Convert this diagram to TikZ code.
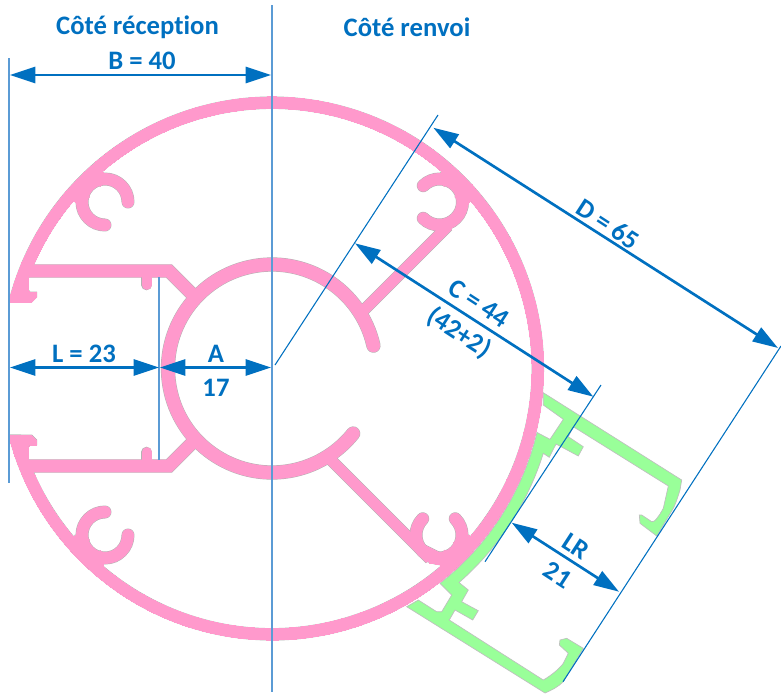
\documentclass[tikz,border=0pt]{standalone}
\usepackage{fontspec}
\setmainfont{Carlito}[Ligatures=NoCommon]
\usetikzlibrary{
  arrows.meta,
  calc,
}
\definecolor{mypink}{HTML}{FF99CC}
\definecolor{mygreen}{HTML}{99FF99}
\definecolor{myblue}{HTML}{0070C0}
\definecolor{myext}{HTML}{5B9BD5}
\def\myextra{0pt}
\tikzset{
  x=0.75pt,
  y=-0.75pt,
  >={Triangle[length=19pt,width=12pt]},
  my label/.style={
    font=\bfseries\fontsize{20}{20}\selectfont,
    text=myblue,
    inner sep=0pt
  },
  my dim/.style={
    <->,
    draw=myblue,
    line width=2pt
  },
  my ext/.style={
    draw=myext,
    line width=1.2pt
  },
  my thin/.style={
    draw=myblue,
    line width=0.8pt
  },
  hub wall/.style={
    line width=10pt+\myextra,
    line cap=round
  },
  clip wall/.style={
    line width=9pt+\myextra,
    line cap=round
  },
  rib wall/.style={
    line width=8.2pt+\myextra
  },
  bar wall/.style={
    line width=9.4pt+\myextra,
    miter limit=10
  },
  tab wall/.style={
    line width=7.2pt+\myextra,
    line cap=round
  }
}
% drawn twice: once wider in grey for the edge, once in pink
\newcommand{\pinkparts}[2]{
  \def\myextra{#2}
  \begin{scope}[color=#1,fill=#1,line width=#2]
    \filldraw ($(o)+(194.18:271.5)$) arc[start angle=194.18,end angle=525.82,radius=271.5]
      -- ($(o)+(525.18:260)$) arc[start angle=525.18,end angle=194.82,radius=260] -- cycle;
    \draw[hub wall] ($(o)+(-12.7:104)$) arc[start angle=-12.7,end angle=-321.3,radius=104];
    \foreach \cy/\sgn in {271/1,466/-1} {
      \draw[bar wall] (25,\cy) -- (169,\cy) -- (195,\cy+26*\sgn);
      \draw[tab wall] (146.7,\cy) -- (146.7,\cy+14*\sgn);
    }
    \filldraw (8.8,302) -- (31.7,302) -- (36.7,297) -- (36.7,292) -- (30,292) -- (28.3,290)
      -- (28.3,270) -- (22,270) -- cycle;
    \filldraw (8.8,435) -- (31.7,435) -- (36.7,440) -- (36.7,445) -- (30,445) -- (28.3,447)
      -- (28.3,467) -- (22,467) -- cycle;
    \draw[rib wall] (362,312) -- (448,226);
    \draw[rib wall] (331,460) -- (430,559);
    \foreach \cx/\cy/\sa/\ea/\na/\nb in {105/202/0/-270/-106/-163,105/535/-90/-360/106/163,439.5/202/-225/-495/-74/-17,439/535/-135/-405/70/27} {
      \draw[clip wall] ($(\cx,\cy)+(\sa:23)$) arc[start angle=\sa,end angle=\ea,radius=23];
      \fill ($(\cx,\cy)+(\na:17.5)$) circle[radius=1.7];
      \fill ($(\cx,\cy)+(\nb:17.5)$) circle[radius=1.7];
    }
    % feet of the four clips
    \filldraw (103,172) -- (105,179) -- (89,186) -- (82,202) -- (75,202) -- (74,192) -- (93,173) -- cycle;
    \filldraw (103,565) -- (105,558) -- (89,551) -- (82,535) -- (75,535) -- (74,545) -- (93,564) -- cycle;
    \filldraw (441,172) -- (439,179) -- (455,186) -- (462,202) -- (469,202) -- (470,192) -- (451,173) -- cycle;
    \filldraw (441,565) -- (439,558) -- (455,551) -- (462,535) -- (469,535) -- (470,545) -- (451,564) -- cycle;
    \filldraw (469,202) -- (461.7,218) -- (447,232) -- (435,231.7) -- (440,225) -- (455,218) -- (462,202) -- cycle;
    \filldraw (430,563) -- (441,565) -- (445,555) -- (415,540) -- cycle;
  \end{scope}
}

\begin{document}
\begin{tikzpicture}
\useasboundingbox (0,0) rectangle (781,693);
\coordinate (o) at (272,368.5);

% counter profile
\filldraw[draw=black!25,fill=mygreen,line width=0.5pt]
  (543.3,392.7) -- (681.7,480) -- (680,490) .. controls (677,500) and (675,505) .. (673.3,508.3)
  -- (656.7,536) -- (640,523.3) -- (639.3,515) -- (641.7,515) -- (651.7,521.7)
  .. controls (655,522) and (657,518) .. (660,514) -- (663.3,508.3) -- (668.3,486)
  -- (573.3,426.7) -- (568.3,436.7) -- (583.3,446.7) -- (578.3,456) -- (556,444)
  -- (549.3,457.3) -- (543.3,453.3)
  arc[start angle=17.4,end angle=48.8,radius=285]
  -- (468.3,590) -- (461.7,601.7) -- (478.3,610.7) -- (472.7,620) -- (455,610) -- (449.3,620)
  -- (543.3,680) .. controls (552,675) and (560,668) .. (563.3,663.3) -- (568.3,653.3)
  -- (559.3,645) -- (560,640) -- (566.7,638.3) -- (583.3,648.3) -- (563.3,681.7)
  .. controls (558,687) and (552,690) .. (545,693)
  -- (406.7,606.7) -- (418.3,600) -- (436.7,611.7) -- (441.7,611.7) -- (451.7,595) -- (440,583.3)
  arc[start angle=52,end angle=13.5,radius=272]
  -- (550,439.3) -- (563.3,419.3) -- (543.3,405) -- cycle;

\pinkparts{black!30}{0.7pt}
\pinkparts{mypink}{0pt}

% extension lines
\coordinate (bt) at (9,58);      \coordinate (bb) at (9,483);
\coordinate (mt) at (271.7,5);   \coordinate (mb) at (271.7,692);
\coordinate (lt) at (159,277);   \coordinate (lb) at (159,460);
\coordinate (ct) at (438,115);   \coordinate (cb) at (275,365);
\coordinate (rt) at (601,385);   \coordinate (rb) at (485,561.7);
\coordinate (dt) at (781,346);   \coordinate (db) at (563,681.7);
\draw[my ext] (bt) -- (bb);
\draw[my ext] (mt) -- (mb);
\draw[my ext] (lt) -- (lb);
\draw[my thin] (ct) -- (cb);
\draw[my thin] (rt) -- (rb);
\draw[my thin] (dt) -- (db);

% dimension arrows
\coordinate (b1) at (10,75);       \coordinate (b2) at (271,75);
\coordinate (l1) at (10,367.5);    \coordinate (l2) at (159,367.5);
\coordinate (a1) at (160,367.5);   \coordinate (a2) at (271,367.5);
\coordinate (c1) at (355,243.3);   \coordinate (c2) at (593.3,396.7);
\coordinate (d1) at (433.3,127.7); \coordinate (d2) at (778,348);
\coordinate (r1) at (511.7,522.7); \coordinate (r2) at (619,591.7);
\draw[my dim] (b1) -- (b2);
\draw[my dim] (l1) -- (l2);
\draw[my dim] (a1) -- (a2);
\draw[my dim] (c1) -- (c2);
\draw[my dim] (d1) -- (d2);
\draw[my dim] (r1) -- (r2);

\node[my label]            (recep) at (137.5,27) {Côté réception};
\node[my label]            (renvoi) at (407,27)  {Côté renvoi};
\node[my label]            (bval)  at (142,61)   {B = 40};
\node[my label]            (lval)  at (84,354)   {L = 23};
\node[my label]            (aname) at (216,354)  {A};
\node[my label]            (aval)  at (216,388)  {17};
\node[my label,rotate=-33] (cval)  at (479,303)  {C = 44};
\node[my label,rotate=-33] (csum)  at (459,333)  {(42+2)};
\node[my label,rotate=-33] (dval)  at (608,224)  {D = 65};
\node[my label,rotate=-33] (lrname) at (576,546) {LR};
\node[my label,rotate=-33] (lrval) at (558,575)  {21};
\end{tikzpicture}
\end{document}
